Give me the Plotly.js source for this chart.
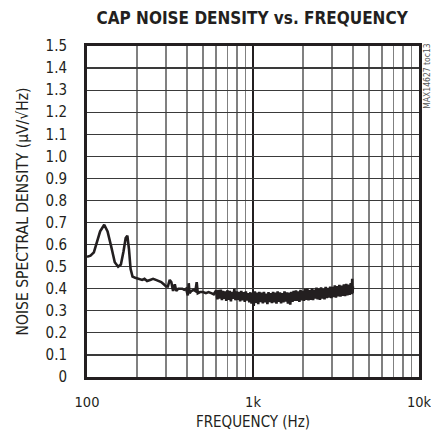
<!DOCTYPE html>
<html>
<head>
<meta charset="utf-8">
<script src="https://cdn.plot.ly/plotly-3.0.1.min.js"></script>
<style>html,body{margin:0;padding:0;background:#fff;}#chart{width:431px;height:438px;}</style>
</head>
<body>
<div id="chart"></div>
<script>
// Frequency (Hz) and noise spectral density (µV/√Hz)
const freqLow = [100,105,110,115,120,127,133,140,147,154,160,166,171,175,179,183,188,195,205,215,222,230,240,250,260,270,280,290,300,307,315,322,330,338,345,355,365,375,385,395,405,410,415,425,440,450,458,465,480,500,520,540,560,580];
const densLow = [0.545,0.55,0.565,0.61,0.66,0.69,0.66,0.59,0.52,0.50,0.51,0.57,0.63,0.64,0.58,0.49,0.455,0.45,0.445,0.44,0.445,0.435,0.44,0.445,0.44,0.435,0.43,0.42,0.41,0.41,0.44,0.43,0.39,0.42,0.39,0.40,0.40,0.40,0.395,0.40,0.37,0.425,0.38,0.39,0.395,0.39,0.43,0.38,0.385,0.385,0.38,0.385,0.38,0.375];
const freqHigh = [600,610,620,630,640,650,660,670,680,690,
  700,712,724,736,748,760,772,784,797,810,
  823,836,850,864,878,892,906,920,935,950,
  965,980,995,1010,1026,1042,1058,1075,1092,1110,
  1128,1146,1164,1183,1202,1221,1240,1260,1280,1300,
  1321,1342,1363,1385,1407,1430,1453,1476,1500,1524,
  1548,1573,1598,1624,1650,1676,1703,1730,1758,1786,
  1815,1844,1873,1903,1933,1964,1995,2027,2060,2093,
  2126,2160,2195,2230,2265,2301,2338,2375,2413,2452,
  2491,2531,2571,2612,2654,2696,2739,2783,2827,2872,
  2918,2965,3012,3060,3109,3159,3209,3260,3312,3365,
  3419,3474,3529,3586,3643,3701,3760,3820,3880,3930,
  3960,3980,4000];
const densHigh = [0.392,0.352,0.395,0.355,0.396,0.348,0.39,0.354,0.388,0.345,
  0.393,0.35,0.39,0.343,0.386,0.355,0.398,0.348,0.388,0.35,
  0.386,0.343,0.39,0.348,0.384,0.34,0.388,0.346,0.38,0.338,
  0.384,0.332,0.38,0.322,0.388,0.336,0.382,0.33,0.386,0.34,
  0.382,0.334,0.386,0.338,0.378,0.33,0.385,0.34,0.38,0.335,
  0.386,0.338,0.382,0.332,0.388,0.34,0.384,0.334,0.38,0.338,
  0.388,0.342,0.384,0.332,0.382,0.328,0.386,0.34,0.39,0.345,
  0.392,0.345,0.388,0.34,0.395,0.347,0.39,0.345,0.398,0.35,
  0.40,0.347,0.394,0.35,0.402,0.348,0.396,0.355,0.405,0.352,
  0.40,0.35,0.406,0.355,0.398,0.352,0.408,0.358,0.404,0.36,
  0.41,0.358,0.408,0.362,0.415,0.36,0.412,0.365,0.418,0.364,
  0.414,0.368,0.42,0.366,0.422,0.37,0.418,0.372,0.425,0.375,
  0.445,0.38,0.41];

const xTickVals = [100,1000,10000];
const xTickText = ['100','1k','10k'];
const yTickVals = [0,0.1,0.2,0.3,0.4,0.5,0.6,0.7,0.8,0.9,1.0,1.1,1.2,1.3,1.4,1.5];
const yTickText = ['0','0.1','0.2','0.3','0.4','0.5','0.6','0.7','0.8','0.9','1.0','1.1','1.2','1.3','1.4','1.5'];

const FONT = '"DejaVu Sans Condensed", "Liberation Sans Narrow", Arial, sans-serif';

const trace = {
  x: freqLow.concat(freqHigh),
  y: densLow.concat(densHigh),
  type: 'scatter',
  mode: 'lines',
  line: {color: '#231f20', width: 2.6},
  hoverinfo: 'skip'
};

const layout = {
  width: 431, height: 438,
  margin: {l: 87, r: 12, t: 46, b: 61},
  paper_bgcolor: '#fff', plot_bgcolor: '#fff',
  showlegend: false,
  font: {family: FONT, color: '#231f20', size: 15},
  title: {text: '<b>CAP NOISE DENSITY vs. FREQUENCY</b>', font: {family: FONT, size: 17, color: '#231f20'}, x: 0.585, xanchor: 'center', y: 0.958, yanchor: 'middle'},
  xaxis: {
    type: 'log', range: [2, 4],
    tickvals: xTickVals, ticktext: xTickText,
    ticks: '', ticklabelstandoff: 10, ticklabeloverflow: 'allow',
    showgrid: true, gridcolor: '#231f20', gridwidth: 1.5,
    minor: {dtick: 'D1', showgrid: true, gridcolor: '#808080', gridwidth: 1.5, ticks: ''},
    showline: true, mirror: true, linecolor: '#231f20', linewidth: 3,
    zeroline: false,
    tickfont: {family: FONT, size: 14.5, color: '#231f20'},
    title: {text: 'FREQUENCY (Hz)', font: {family: FONT, size: 15, color: '#231f20'}, standoff: 8}
  },
  yaxis: {
    range: [0, 1.5],
    tickvals: yTickVals, ticktext: yTickText,
    ticks: '', ticklabelstandoff: 14,
    showgrid: true, gridcolor: '#3a3a3a', gridwidth: 1.2,
    showline: true, mirror: true, linecolor: '#231f20', linewidth: 3,
    zeroline: false,
    tickfont: {family: FONT, size: 15, color: '#231f20'},
    title: {text: 'NOISE SPECTRAL DENSITY (μV/√Hz)', font: {family: FONT, size: 15.5, color: '#231f20'}, standoff: 14}
  },
  annotations: [{
    text: 'MAX14627 toc13', xref: 'paper', yref: 'paper', x: 1.024, y: 0.91,
    xanchor: 'center', yanchor: 'middle', showarrow: false, textangle: -90,
    font: {family: FONT, size: 8.5, color: '#555'}
  }]
};

Plotly.newPlot('chart', [trace], layout, {displayModeBar: false, staticPlot: true});
</script>
</body>
</html>
